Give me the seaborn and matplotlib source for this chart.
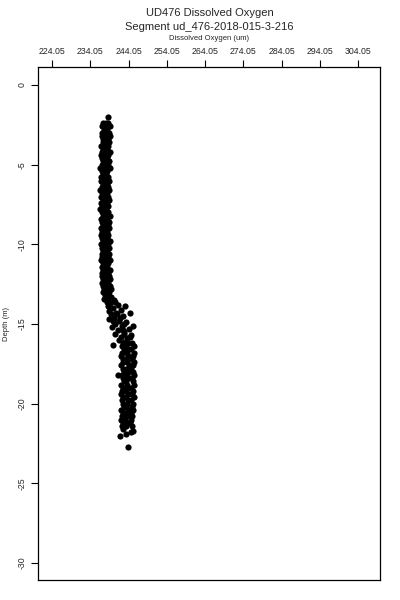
import matplotlib
matplotlib.use("Agg")
import matplotlib.pyplot as plt
import seaborn as sns
import pandas as pd

# Dissolved oxygen profile, segment ud_476-2018-015-3-216
depth_top = [-2.0]
oxygen_top = [238.7]

depth_upper = [-2.4, -2.6, -2.8, -3.0, -3.2, -3.4, -3.6, -3.8, -4.0, -4.2,
               -4.4, -4.6, -4.8, -5.0, -5.2, -5.4, -5.6, -5.8, -6.0, -6.2,
               -6.4, -6.6, -6.8, -7.0, -7.2, -7.4, -7.6, -7.8, -8.0, -8.2,
               -8.4, -8.6, -8.8, -9.0, -9.2, -9.4, -9.6, -9.8, -10.0, -10.2,
               -10.4, -10.6, -10.8, -11.0, -11.2, -11.4, -11.6, -11.8, -12.0, -12.2,
               -12.4, -12.6, -12.8, -13.0]
oxygen_upper_a = [237.4, 237.1, 237.6, 237.2, 237.0, 237.5, 237.3, 236.9, 237.4, 237.1,
                  236.8, 237.2, 237.5, 237.0, 236.7, 237.1, 237.4, 236.9, 236.8, 237.3,
                  237.0, 236.7, 237.2, 236.9, 237.4, 236.8, 237.1, 236.7, 237.0, 237.3,
                  236.8, 237.1, 237.4, 236.9, 237.2, 236.8, 237.0, 237.3, 236.9, 237.1,
                  237.4, 237.0, 237.2, 236.9, 237.3, 237.1, 237.4, 237.0, 237.2, 237.5,
                  237.1, 237.3, 237.6, 237.4]
oxygen_upper_c = [238.1, 237.9, 238.2, 238.0, 237.8, 238.3, 238.0, 237.9, 238.1, 237.8,
                  238.0, 237.7, 238.2, 237.9, 237.8, 238.1, 237.7, 238.0, 237.9, 237.7,
                  238.1, 237.8, 237.6, 238.0, 237.9, 237.7, 238.1, 237.8, 237.9, 238.2,
                  237.7, 238.0, 237.9, 238.1, 237.8, 237.9, 238.2, 238.0, 237.8, 238.1,
                  237.9, 238.2, 238.0, 238.1, 237.9, 238.2, 238.0, 238.3, 238.1, 238.2,
                  238.4, 238.1, 238.3, 238.5]
oxygen_upper_b = [238.7, 239.1, 238.5, 238.9, 239.2, 238.6, 239.0, 238.8, 238.4, 239.1,
                  238.7, 238.3, 238.9, 238.6, 239.1, 238.5, 238.2, 238.8, 239.0, 238.4,
                  238.7, 238.9, 238.3, 238.6, 239.0, 238.5, 238.8, 238.2, 238.7, 239.1,
                  238.4, 238.9, 238.6, 239.0, 238.3, 238.8, 238.5, 239.1, 238.7, 238.9,
                  238.4, 239.0, 238.6, 239.2, 238.8, 238.5, 239.1, 238.7, 238.9, 239.3,
                  238.8, 239.1, 239.4, 239.0]

depth_mid = [-13.2, -13.3, -13.4, -13.5, -13.6, -13.7, -13.8, -13.9, -14.0, -14.1,
             -14.2, -14.3, -14.4, -14.5, -14.6, -14.7, -14.8, -14.9, -15.0, -15.1,
             -15.2, -15.3, -15.4, -15.5, -15.6, -15.7, -15.8, -15.9, -16.0, -14.3,
             -15.1, -13.9, -16.3, -18.2, -13.4, -13.6, -14.0, -14.4, -14.8, -15.0,
             -15.4, -15.8, -13.1, -14.6, -15.6, -16.1]
oxygen_mid = [238.0, 239.6, 237.6, 240.2, 238.4, 239.1, 241.3, 238.7, 240.0, 242.0,
              238.9, 240.8, 239.4, 242.6, 240.3, 239.0, 241.6, 243.4, 240.6, 242.3,
              239.7, 244.2, 241.2, 243.0, 240.4, 244.6, 242.1, 243.7, 241.5, 244.5,
              245.3, 243.2, 240.0, 241.3, 238.8, 240.6, 239.2, 241.1, 240.0, 242.9,
              242.6, 244.4, 238.6, 241.8, 242.9, 243.1]

depth_lower = [-16.2, -16.4, -16.6, -16.8, -17.0, -17.2, -17.4, -17.6, -17.8, -18.0,
               -18.2, -18.4, -18.6, -18.8, -19.0, -19.2, -19.4, -19.6, -19.8, -20.0,
               -20.2, -20.4, -20.6, -20.8, -21.0, -21.2, -21.4]
oxygen_lower_a = [242.6, 242.3, 242.8, 242.4, 242.2, 242.7, 242.5, 242.1, 242.6, 242.9,
                  242.3, 242.5, 242.8, 242.2, 242.6, 242.4, 242.0, 242.7, 242.3, 242.5,
                  242.8, 242.2, 242.6, 242.4, 242.1, 242.7, 242.3]
oxygen_lower_c = [243.8, 243.5, 244.0, 243.6, 243.9, 243.4, 243.7, 244.1, 243.5, 243.8,
                  243.6, 244.0, 243.3, 243.7, 243.9, 243.5, 243.8, 243.4, 244.0, 243.6,
                  243.3, 243.9, 243.5, 243.7, 243.2, 243.8, 243.4]
oxygen_lower_b = [245.0, 245.4, 244.8, 245.6, 245.2, 244.9, 245.5, 245.1, 244.7, 245.3,
                  245.6, 244.9, 245.2, 245.5, 244.8, 245.3, 245.0, 245.4, 244.7, 245.1,
                  244.9, 245.3, 244.6, 245.0, 244.8, 244.5, 244.9]

depth_tail = [-21.6, -21.7, -21.8, -21.9, -22.0, -22.7]
oxygen_tail = [242.5, 245.2, 244.8, 243.3, 241.8, 244.0]

x_ticks = [224.05, 234.05, 244.05, 254.05, 264.05, 274.05, 284.05, 294.05, 304.05]
y_ticks = [0, -5, -10, -15, -20, -25, -30]

df = pd.DataFrame({
    "depth": depth_top + depth_upper * 3 + depth_mid
             + depth_lower * 3 + depth_tail,
    "oxygen": oxygen_top + oxygen_upper_a + oxygen_upper_c + oxygen_upper_b + oxygen_mid
              + oxygen_lower_a + oxygen_lower_c + oxygen_lower_b + oxygen_tail,
})

sns.set_style("white")
plt.rcParams["font.family"] = ["Liberation Sans", "DejaVu Sans"]

fig = plt.figure(figsize=(4, 6), dpi=100)
ax = fig.add_axes([0.095, 0.0333, 0.855, 0.855])

sns.scatterplot(data=df, x="oxygen", y="depth", ax=ax, color="black",
                s=20, linewidth=0, legend=False)

ax.set_xlim(220.39, 309.8)
ax.set_ylim(-31.07, 1.13)

ax.xaxis.tick_top()
ax.xaxis.set_label_position("top")
ax.set_xticks(x_ticks)
ax.set_xticklabels([f"{v:.2f}" for v in x_ticks], fontsize=6.3)
ax.set_yticks(y_ticks)
ax.set_yticklabels([str(v) for v in y_ticks], fontsize=6.3, rotation=90, va="center")
ax.tick_params(axis="both", direction="out", length=5, width=0.8, color="black",
               top=True, left=True, bottom=False, right=False, pad=3)

ax.set_xlabel("Dissolved Oxygen (um)", fontsize=5.5, labelpad=5)
ax.set_ylabel("Depth (m)", fontsize=5.5, labelpad=6)

for spine in ax.spines.values():
    spine.set_color("black")
    spine.set_linewidth(0.9)

fig.text(0.524, 0.978, "UD476 Dissolved Oxygen", ha="center", va="center", fontsize=8)
fig.text(0.524, 0.955, "Segment ud_476-2018-015-3-216", ha="center", va="center", fontsize=8)

fig.savefig("out.png", dpi=100)
